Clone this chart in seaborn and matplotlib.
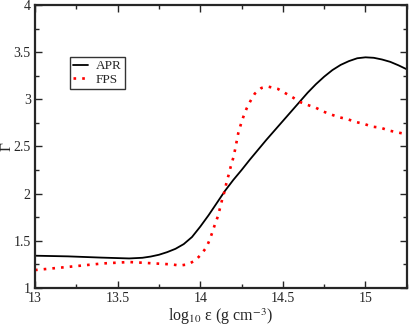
import matplotlib
matplotlib.use("Agg")
import matplotlib.pyplot as plt
import seaborn as sns
import pandas as pd
from matplotlib.ticker import MultipleLocator

apr_x = [13.0, 13.2, 13.4, 13.57, 13.65, 13.7, 13.75, 13.8, 13.85, 13.9, 13.95, 14.0, 14.05,
         14.1, 14.15, 14.2, 14.25, 14.3, 14.4, 14.5, 14.6, 14.65, 14.7, 14.75, 14.8,
         14.85, 14.9, 14.95, 15.0, 15.05, 15.1, 15.15, 15.2, 15.25]
apr_y = [1.342, 1.335, 1.322, 1.313, 1.32, 1.333, 1.352, 1.38, 1.415, 1.465, 1.54, 1.65, 1.77,
         1.90, 2.03, 2.145, 2.25, 2.36, 2.57, 2.77, 2.97, 3.07, 3.16, 3.24, 3.31,
         3.365, 3.405, 3.435, 3.445, 3.44, 3.422, 3.397, 3.36, 3.318]

fps_x = [13.0, 13.21, 13.41, 13.57, 13.625, 13.675, 13.725, 13.775, 13.826, 13.876, 13.926,
         13.973, 14.007, 14.037, 14.057, 14.073, 14.09, 14.107, 14.12, 14.133, 14.148,
         14.158, 14.172, 14.185, 14.20, 14.21, 14.22, 14.23, 14.245, 14.26, 14.28, 14.30,
         14.33, 14.37, 14.41, 14.47, 14.51, 14.56, 14.605, 14.65, 14.70, 14.745, 14.79,
         14.84, 14.89, 14.94, 14.99, 15.04, 15.09, 15.14, 15.19, 15.25]
fps_y = [1.19, 1.225, 1.26, 1.275, 1.27, 1.265, 1.26, 1.255, 1.25, 1.238, 1.25,
         1.296, 1.36, 1.43, 1.51, 1.59, 1.68, 1.76, 1.85, 1.94, 2.03,
         2.11, 2.20, 2.29, 2.38, 2.46, 2.55, 2.64, 2.73, 2.81, 2.90, 2.97,
         3.06, 3.12, 3.135, 3.11, 3.07, 3.02, 2.97, 2.94, 2.91, 2.87, 2.84,
         2.81, 2.79, 2.76, 2.74, 2.71, 2.70, 2.67, 2.65, 2.63]

x_ticks = [13, 13.5, 14, 14.5, 15]
x_tick_labels = ['13', '13.5', '14', '14.5', '15']
y_ticks = [1, 1.5, 2, 2.5, 3, 3.5, 4]
y_tick_labels = ['1', '1.5', '2', '2.5', '3', '3.5', '4']

sns.set_style("ticks")
plt.rcParams['font.family'] = ['Liberation Serif', 'DejaVu Serif']
plt.rcParams['mathtext.fontset'] = 'stix'
plt.rcParams['xtick.direction'] = 'in'
plt.rcParams['ytick.direction'] = 'in'

fig = plt.figure(figsize=(4.09, 3.31), dpi=100)
ax = fig.add_axes([0.0856, 0.130, 0.909, 0.855])

df_apr = pd.DataFrame({'x': apr_x, 'y': apr_y})
df_fps = pd.DataFrame({'x': fps_x, 'y': fps_y})

sns.lineplot(data=df_apr, x='x', y='y', ax=ax, color='black', lw=1.3, label='APR',
             sort=False, estimator=None)
sns.lineplot(data=df_fps, x='x', y='y', ax=ax, color='#ff0000', lw=1.9, label='FPS',
             sort=False, estimator=None, linestyle=(0, (1, 2.3)))

ax.set_xlim(13, 15.25)
ax.set_ylim(1, 4)
ax.set_xticks(x_ticks)
ax.set_xticklabels(x_tick_labels)
ax.set_yticks(y_ticks)
ax.set_yticklabels(y_tick_labels)
ax.xaxis.set_minor_locator(MultipleLocator(0.25))
ax.yaxis.set_minor_locator(MultipleLocator(0.25))
ax.tick_params(which='both', top=True, right=True, direction='in', labelsize=10, width=1)
ax.tick_params(which='major', length=5, pad=3)
ax.tick_params(which='minor', length=3)
for s in ax.spines.values():
    s.set_linewidth(1.6)

ax.set_xlabel(r'log$_{10}$ ε (g cm$^{-3}$)', fontsize=11.5, labelpad=1)
ax.set_ylabel('Γ', fontsize=11)
ax.yaxis.set_label_coords(-0.058, 0.5)

leg = ax.legend(loc='upper left', bbox_to_anchor=(0.094, 0.817), borderaxespad=0,
                frameon=True, fancybox=False, edgecolor='black', fontsize=9.5,
                handlelength=1.1, borderpad=0.25, labelspacing=0.1, handletextpad=0.6)
leg.get_frame().set_linewidth(1.0)

fig.savefig('out.png', dpi=100)
